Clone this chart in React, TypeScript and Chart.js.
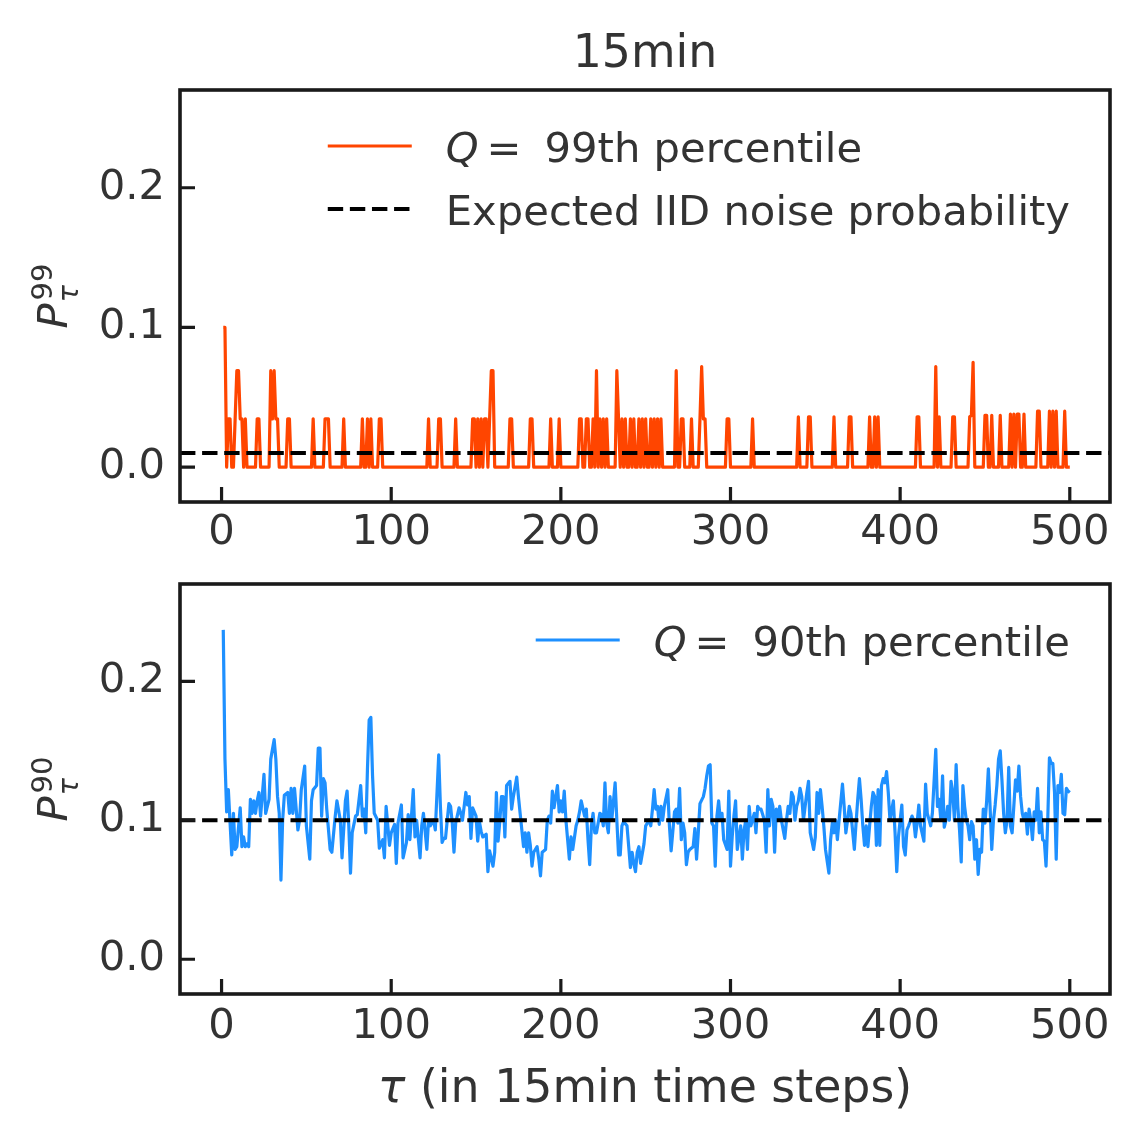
import React, { useEffect, useRef } from 'react';
import { Chart, registerables } from 'chart.js';

Chart.register(...registerables);

// ---- data ----
const N_STEPS = 500;

// P^99: zero everywhere except these steps
const P99_TAU = [
  1, 2, 4, 5, 8, 9, 10, 11, 12, 14, 21, 22, 29, 30, 31, 32, 33, 39, 40, 54, 61, 62, 63, 72, 83, 86, 88, 93, 94,
  122, 128, 129, 138, 148, 149, 151, 153, 155, 156, 158, 159, 160, 170, 171, 182, 183, 194, 199,
  211, 212, 215, 216, 219, 221, 223, 225, 227, 233, 234, 236, 238, 241, 243, 246, 248, 250, 253, 255, 257, 259,
  268, 271, 272, 277, 282, 283, 284, 285, 298, 299, 313, 340, 346, 347, 361, 370, 371, 382, 385, 387, 410, 411,
  421, 423, 431, 432, 441, 442, 443, 450, 451, 454, 459, 465, 467, 469, 470, 473, 481, 482, 488, 490, 492, 497,
];
const P99_VAL = [
  0.1, 0.1, 0.0345, 0.0345, 0.0345, 0.069, 0.069, 0.0345, 0.0345, 0.0345, 0.0345, 0.0345, 0.069, 0.0345, 0.069, 0.0345, 0.0345, 0.0345, 0.0345, 0.0345, 0.0345, 0.0345, 0.0345, 0.0345, 0.0345, 0.0345, 0.0345, 0.0345, 0.0345,
  0.0345, 0.0345, 0.0345, 0.0345, 0.0345, 0.0345, 0.0345, 0.0345, 0.0345, 0.0345, 0.0345, 0.069, 0.069, 0.0345, 0.0345, 0.0345, 0.0345, 0.0345, 0.0345,
  0.0345, 0.0345, 0.0345, 0.0345, 0.0345, 0.069, 0.0345, 0.0345, 0.0345, 0.069, 0.0345, 0.0345, 0.0345, 0.0345, 0.0345, 0.0345, 0.0345, 0.0345, 0.0345, 0.0345, 0.0345, 0.0345,
  0.069, 0.0345, 0.0345, 0.0345, 0.0345, 0.072, 0.0345, 0.0345, 0.0345, 0.0345, 0.0345, 0.036, 0.036, 0.036, 0.036, 0.036, 0.036, 0.036, 0.036, 0.036, 0.036, 0.036,
  0.072, 0.036, 0.036, 0.036, 0.036, 0.037, 0.075, 0.037, 0.037, 0.037, 0.037, 0.038, 0.038, 0.038, 0.038, 0.038, 0.04, 0.04, 0.04, 0.04, 0.04, 0.04,
];

// P^90
const P90_TAU = [
  1, 2, 3, 4, 6, 7, 8, 9, 11, 12, 13, 14, 15, 16, 17, 18, 19, 20, 21, 22, 23, 25, 26, 27, 28, 29, 30, 31, 32, 33, 34, 35, 36, 37, 39, 40,
  41, 42, 43, 45, 46, 47, 49, 50, 52, 53, 54, 56, 57, 58, 59, 60, 61, 62, 64, 65, 67, 68, 70, 71, 73, 74, 75, 76, 77, 79, 80,
  82, 83, 84, 85, 86, 87, 88, 89, 90, 92, 93, 95, 96, 97, 99, 100, 102, 103, 104, 106, 107, 109, 110, 111, 113, 114, 115, 117, 118, 119,
  121, 122, 123, 125, 126, 128, 129, 130, 131, 132, 134, 135, 136, 137, 138, 140, 141, 142, 143, 144, 145, 146, 147, 148, 150, 151, 152, 153, 154, 156, 157, 158, 160,
  161, 162, 163, 164, 165, 166, 167, 168, 170, 171, 172, 174, 175, 176, 178, 179, 180, 181, 182, 183, 184, 186, 187, 188, 189, 191, 192, 193, 194, 195, 196, 198, 199, 200,
  201, 202, 203, 205, 206, 207, 209, 210, 211, 212, 214, 215, 216, 217, 218, 219, 220, 221, 223, 224, 225, 226, 227, 228, 229, 230, 232, 233, 234, 235, 236, 237, 239, 240,
  241, 242, 243, 244, 245, 246, 247, 249, 250, 252, 253, 254, 255, 256, 257, 258, 259, 260, 261, 263, 264, 265, 267, 268, 269, 270, 271, 272, 273, 274, 275, 276, 278, 279, 280,
  281, 282, 284, 285, 286, 287, 288, 289, 290, 291, 292, 293, 294, 295, 296, 298, 299, 300, 301, 302, 303, 304, 305, 306, 307, 308, 309, 310, 311, 312, 314, 315, 316, 317, 318, 320,
  321, 322, 323, 324, 325, 326, 327, 328, 329, 330, 332, 333, 334, 335, 336, 337, 338, 339, 340, 341, 342, 343, 344, 345, 346, 347, 349, 350, 351, 352, 353, 354, 355, 356, 358, 359, 360,
  361, 362, 363, 364, 366, 367, 368, 369, 370, 371, 373, 374, 375, 376, 377, 378, 379, 380, 381, 382, 383, 384, 385, 386, 387, 388, 389, 390, 391, 392, 393, 394, 396, 397, 398, 399, 400,
  401, 402, 403, 404, 405, 407, 408, 409, 410, 411, 412, 414, 415, 416, 418, 419, 421, 422, 423, 424, 425, 426, 427, 428, 429, 430, 431, 432, 433, 434, 435, 436, 437, 438, 439, 440,
  441, 442, 443, 444, 445, 446, 447, 448, 449, 450, 451, 452, 453, 454, 455, 456, 457, 458, 459, 460, 461, 462, 463, 464, 465, 466, 467, 468, 469, 470, 471, 472, 473, 474, 475, 476, 477, 478, 479, 480,
  481, 482, 483, 484, 485, 486, 487, 488, 489, 490, 491, 492, 493, 494, 495, 496, 497, 498, 499, 500,
];
const P90_VAL = [
  0.237, 0.144, 0.106, 0.122, 0.075, 0.105, 0.079, 0.081, 0.109, 0.081, 0.088, 0.081, 0.083, 0.081, 0.115, 0.105, 0.114, 0.105, 0.114, 0.12, 0.103, 0.133, 0.105, 0.11, 0.115, 0.144, 0.151, 0.158, 0.144, 0.117, 0.105, 0.057, 0.1, 0.118, 0.12, 0.105,
  0.123, 0.105, 0.123, 0.093, 0.1, 0.122, 0.139, 0.096, 0.072, 0.114, 0.122, 0.125, 0.152, 0.152, 0.103, 0.13, 0.127, 0.108, 0.079, 0.077, 0.103, 0.114, 0.1, 0.073, 0.114, 0.121, 0.096, 0.062, 0.091, 0.103, 0.104,
  0.125, 0.103, 0.108, 0.091, 0.137, 0.172, 0.174, 0.132, 0.105, 0.1, 0.08, 0.086, 0.073, 0.11, 0.082, 0.091, 0.097, 0.069, 0.098, 0.111, 0.073, 0.084, 0.104, 0.086, 0.122, 0.088, 0.1, 0.073, 0.096, 0.105,
  0.079, 0.1, 0.096, 0.1, 0.093, 0.147, 0.11, 0.084, 0.087, 0.087, 0.112, 0.11, 0.098, 0.077, 0.098, 0.109, 0.105, 0.1, 0.11, 0.12, 0.111, 0.117, 0.087, 0.109, 0.103, 0.085, 0.099, 0.092, 0.088, 0.09, 0.063, 0.078, 0.067,
  0.077, 0.12, 0.085, 0.099, 0.117, 0.117, 0.088, 0.125, 0.128, 0.108, 0.117, 0.131, 0.117, 0.105, 0.081, 0.091, 0.077, 0.091, 0.082, 0.067, 0.077, 0.081, 0.072, 0.06, 0.077, 0.079, 0.1, 0.103, 0.098, 0.121, 0.109, 0.125, 0.106, 0.114,
  0.106, 0.121, 0.1, 0.072, 0.088, 0.079, 0.096, 0.1, 0.106, 0.114, 0.103, 0.108, 0.086, 0.068, 0.096, 0.105, 0.091, 0.091, 0.105, 0.104, 0.096, 0.127, 0.098, 0.091, 0.117, 0.1, 0.127, 0.1, 0.075, 0.075, 0.096, 0.099, 0.096, 0.081,
  0.066, 0.077, 0.069, 0.063, 0.077, 0.081, 0.069, 0.083, 0.096, 0.1, 0.096, 0.108, 0.122, 0.108, 0.11, 0.097, 0.11, 0.1, 0.11, 0.122, 0.096, 0.078, 0.106, 0.108, 0.098, 0.123, 0.086, 0.098, 0.091, 0.068, 0.077, 0.079, 0.081, 0.094, 0.072,
  0.091, 0.112, 0.117, 0.123, 0.132, 0.139, 0.14, 0.098, 0.096, 0.067, 0.103, 0.114, 0.1, 0.105, 0.086, 0.079, 0.121, 0.067, 0.088, 0.103, 0.114, 0.079, 0.088, 0.096, 0.072, 0.093, 0.1, 0.079, 0.11, 0.096, 0.105, 0.091, 0.11, 0.108, 0.108, 0.1,
  0.077, 0.122, 0.096, 0.115, 0.11, 0.077, 0.108, 0.1, 0.11, 0.1, 0.087, 0.1, 0.11, 0.105, 0.12, 0.117, 0.1, 0.11, 0.114, 0.123, 0.117, 0.1, 0.11, 0.12, 0.128, 0.091, 0.079, 0.088, 0.12, 0.105, 0.122, 0.11, 0.096, 0.079, 0.062, 0.086, 0.098,
  0.091, 0.1, 0.086, 0.1, 0.126, 0.11, 0.091, 0.1, 0.11, 0.105, 0.079, 0.098, 0.115, 0.13, 0.115, 0.096, 0.082, 0.096, 0.081, 0.096, 0.11, 0.12, 0.117, 0.082, 0.122, 0.082, 0.125, 0.13, 0.127, 0.135, 0.12, 0.1, 0.114, 0.091, 0.063, 0.088, 0.1,
  0.111, 0.081, 0.075, 0.093, 0.096, 0.103, 0.1, 0.088, 0.098, 0.111, 0.096, 0.085, 0.126, 0.105, 0.096, 0.105, 0.151, 0.11, 0.115, 0.1, 0.132, 0.095, 0.1, 0.11, 0.1, 0.128, 0.12, 0.1, 0.14, 0.11, 0.093, 0.07, 0.125, 0.11, 0.1, 0.096,
  0.086, 0.099, 0.096, 0.072, 0.086, 0.061, 0.079, 0.077, 0.108, 0.098, 0.114, 0.137, 0.11, 0.079, 0.1, 0.111, 0.125, 0.144, 0.15, 0.129, 0.105, 0.091, 0.1, 0.138, 0.096, 0.091, 0.11, 0.129, 0.121, 0.139, 0.117, 0.105, 0.1, 0.105, 0.09, 0.108, 0.1, 0.086, 0.106, 0.1,
  0.123, 0.091, 0.106, 0.086, 0.085, 0.067, 0.1, 0.145, 0.141, 0.141, 0.12, 0.072, 0.125, 0.12, 0.133, 0.105, 0.104, 0.123, 0.121, 0.12,
];

const NOISE_99 = 0.01;
const NOISE_90 = 0.1;

const X_TICKS = [0, 100, 200, 300, 400, 500];
const Y_TICKS = [0, 0.1, 0.2];

// axis limits
const X_MIN = -24.5;
const X_MAX = 523.7;
const Y_MIN = -0.025;
const Y_MAX = 0.27;

const FONT = '"DejaVu Sans", sans-serif';
const TEXT = '#333333';
const SPINE = '#1a1a1a';
const ORANGE = '#ff4500';
const BLUE = '#1e90ff';
const DASH = [15.4, 6.7];
const LINE_W = 3.2;

type Pt = { x: number; y: number };

const p99Lookup = new Map(P99_TAU.map((t, i) => [t, P99_VAL[i]] as [number, number]));
const p99Points: Pt[] = Array.from({ length: N_STEPS }, (_, i) => ({ x: i + 1, y: p99Lookup.get(i + 1) ?? 0 }));
const p90Points: Pt[] = P90_TAU.map((t, i) => ({ x: t, y: P90_VAL[i] }));

// a legend label is a run of text pieces; gap = extra px before the piece
interface Piece {
  t: string;
  italic?: boolean;
  gap?: number;
}

interface LegendEntry {
  pieces: Piece[];
  color: string;
  dash: number[];
  width: number;
}

interface PanelProps {
  points: Pt[];
  color: string;
  noise: number;
  sup: string;
  legend: LegendEntry[];
  canvasTop: number;
  canvasHeight: number;
  areaTop: number;
  areaBottom: number;
  tickPad: number;
  title?: string;
  xLabel?: boolean;
}

const W = 1139;
const AREA_LEFT = 180;
const AREA_RIGHT = 1110;

const legendFont = (italic?: boolean) => `${italic ? 'italic ' : ''}41.7px ${FONT}`;

function Panel(props: PanelProps) {
  const canvasRef = useRef<HTMLCanvasElement | null>(null);
  const chartRef = useRef<Chart | null>(null);

  useEffect(() => {
    if (!canvasRef.current) return;
    if (chartRef.current) chartRef.current.destroy();

    const decor = {
      id: 'decor',
      afterDraw(chart: any) {
        const { ctx, chartArea } = chart;
        const { left, right, top, bottom } = chartArea;
        const xs = chart.scales.x;
        const ys = chart.scales.y;
        ctx.save();

        // frame
        ctx.strokeStyle = SPINE;
        ctx.lineWidth = 3.6;
        ctx.setLineDash([]);
        ctx.strokeRect(left, top, right - left, bottom - top);

        // inward ticks
        ctx.lineWidth = 3.2;
        ctx.beginPath();
        X_TICKS.forEach((v) => {
          const px = xs.getPixelForValue(v);
          ctx.moveTo(px, bottom);
          ctx.lineTo(px, bottom - 15);
        });
        Y_TICKS.forEach((v) => {
          const py = ys.getPixelForValue(v);
          ctx.moveTo(left, py);
          ctx.lineTo(left + 15, py);
        });
        ctx.stroke();

        ctx.fillStyle = TEXT;
        ctx.textAlign = 'left';
        ctx.textBaseline = 'alphabetic';

        // y label  P_tau^sup, rotated
        ctx.save();
        ctx.translate(67, (top + bottom) / 2);
        ctx.rotate(-Math.PI / 2);
        ctx.font = `italic 41.7px ${FONT}`;
        const wP = ctx.measureText('P').width;
        ctx.font = `29px ${FONT}`;
        const wSup = ctx.measureText(props.sup).width;
        const x0 = -(wP + 3 + wSup) / 2;
        ctx.font = `italic 41.7px ${FONT}`;
        ctx.fillText('P', x0, 0);
        ctx.font = `29px ${FONT}`;
        ctx.fillText(props.sup, x0 + wP + 3, -15);
        ctx.font = `italic 29px ${FONT}`;
        ctx.fillText('τ', x0 + wP + 1, 11);
        ctx.restore();

        // legend
        const widths = props.legend.map((e) =>
          e.pieces.reduce((w, p) => {
            ctx.font = legendFont(p.italic);
            return w + (p.gap ?? 0) + ctx.measureText(p.t).width;
          }, 0)
        );
        const maxW = Math.max(...widths);
        const textX = right - 40 - maxW;
        props.legend.forEach((e, i) => {
          const cy = top + 56 + i * 63;
          ctx.strokeStyle = e.color;
          ctx.lineWidth = e.width;
          ctx.setLineDash(e.dash);
          ctx.beginPath();
          ctx.moveTo(textX - 34 - 84, cy);
          ctx.lineTo(textX - 34, cy);
          ctx.stroke();
          ctx.setLineDash([]);
          let tx = textX;
          e.pieces.forEach((p) => {
            ctx.font = legendFont(p.italic);
            tx += p.gap ?? 0;
            ctx.fillText(p.t, tx, cy + 16);
            tx += ctx.measureText(p.t).width;
          });
        });

        // title
        if (props.title) {
          ctx.font = `45.8px ${FONT}`;
          ctx.textAlign = 'center';
          ctx.fillText(props.title, (left + right) / 2, top - 23);
          ctx.textAlign = 'left';
        }

        // x label
        if (props.xLabel) {
          ctx.font = `italic 45.8px ${FONT}`;
          const wt = ctx.measureText('τ').width;
          ctx.font = `45.8px ${FONT}`;
          const rest = ' (in 15min time steps)';
          const wr = ctx.measureText(rest).width;
          const sx = (left + right) / 2 - (wt + wr) / 2;
          const by = bottom + 108;
          ctx.font = `italic 45.8px ${FONT}`;
          ctx.fillText('τ', sx, by);
          ctx.font = `45.8px ${FONT}`;
          ctx.fillText(rest, sx + wt, by);
        }
        ctx.restore();
      },
    };

    chartRef.current = new Chart(canvasRef.current, {
      type: 'line',
      data: {
        datasets: [
          {
            data: [
              { x: X_MIN, y: props.noise },
              { x: X_MAX, y: props.noise },
            ],
            borderColor: '#000000',
            borderWidth: 4,
            borderDash: DASH,
            pointRadius: 0,
            order: 0,
          },
          {
            data: props.points,
            borderColor: props.color,
            borderWidth: LINE_W,
            borderJoinStyle: 'round',
            pointRadius: 0,
            tension: 0,
            order: 1,
          },
        ],
      },
      options: {
        responsive: false,
        animation: false,
        events: [],
        layout: { padding: { top: props.areaTop, right: W - AREA_RIGHT, left: 0, bottom: 0 } },
        plugins: { legend: { display: false }, tooltip: { enabled: false } },
        scales: {
          x: {
            type: 'linear',
            min: X_MIN,
            max: X_MAX,
            grid: { display: false, drawTicks: false },
            border: { display: false },
            afterBuildTicks: (s: any) => {
              s.ticks = X_TICKS.map((v) => ({ value: v }));
            },
            afterFit: (s: any) => {
              s.height = props.canvasHeight - props.areaBottom;
            },
            ticks: {
              autoSkip: false,
              maxRotation: 0,
              padding: props.tickPad,
              color: TEXT,
              font: { family: FONT, size: 41.7 },
              callback: (v: any) => String(v),
            },
          },
          y: {
            type: 'linear',
            min: Y_MIN,
            max: Y_MAX,
            grid: { display: false, drawTicks: false },
            border: { display: false },
            afterBuildTicks: (s: any) => {
              s.ticks = Y_TICKS.map((v) => ({ value: v }));
            },
            afterFit: (s: any) => {
              s.width = AREA_LEFT;
            },
            ticks: {
              autoSkip: false,
              padding: 15,
              color: TEXT,
              font: { family: FONT, size: 41.7 },
              callback: (v: any) => Number(v).toFixed(1),
            },
          },
        },
      },
      plugins: [decor],
    } as any);

    return () => {
      if (chartRef.current) {
        chartRef.current.destroy();
        chartRef.current = null;
      }
    };
  }, [props]);

  return (
    <canvas
      ref={canvasRef}
      width={W}
      height={props.canvasHeight}
      style={{ position: 'absolute', left: 0, top: props.canvasTop, width: W, height: props.canvasHeight }}
    />
  );
}

const topLegend: LegendEntry[] = [
  {
    pieces: [{ t: 'Q', italic: true }, { t: '=', gap: 8 }, { t: '99th percentile', gap: 23 }],
    color: ORANGE,
    dash: [],
    width: LINE_W,
  },
  { pieces: [{ t: 'Expected IID noise probability' }], color: '#000000', dash: DASH, width: 4 },
];
const bottomLegend: LegendEntry[] = [
  {
    pieces: [{ t: 'Q', italic: true }, { t: '=', gap: 8 }, { t: '90th percentile', gap: 23 }],
    color: BLUE,
    dash: [],
    width: LINE_W,
  },
];

const topProps: PanelProps = {
  points: p99Points,
  color: ORANGE,
  noise: NOISE_99,
  sup: '99',
  legend: topLegend,
  canvasTop: 0,
  canvasHeight: 560,
  areaTop: 90,
  areaBottom: 502,
  tickPad: 6,
  title: '15min',
};
const bottomProps: PanelProps = {
  points: p90Points,
  color: BLUE,
  noise: NOISE_90,
  sup: '90',
  legend: bottomLegend,
  canvasTop: 530,
  canvasHeight: 616,
  areaTop: 54,
  areaBottom: 464,
  tickPad: 8,
  xLabel: true,
};

export default function App() {
  return (
    <div style={{ position: 'absolute', left: 0, top: 0, width: W, height: 1146, background: '#ffffff', overflow: 'hidden' }}>
      <Panel {...topProps} />
      <Panel {...bottomProps} />
    </div>
  );
}
